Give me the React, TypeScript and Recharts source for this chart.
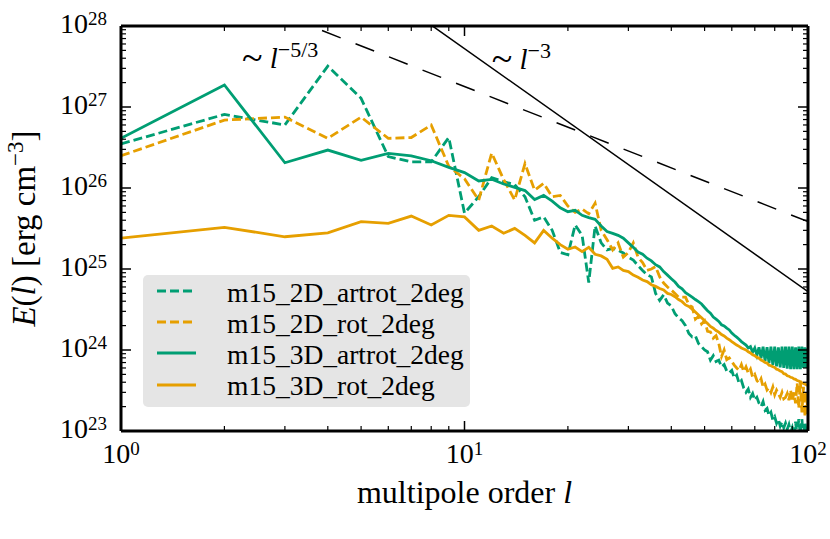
import React from 'react';
import { LineChart, Line, XAxis, YAxis, ReferenceLine, ReferenceDot, Legend, Label } from 'recharts';

const FONT = '"Liberation Serif", "Times New Roman", serif';
const TEAL = '#009E73';
const ORANGE = '#E69F00';

// multipole order l
const L = [
  1, 2, 3, 4, 5, 6, 7, 8, 9, 10, 11, 12, 13, 14, 15, 16, 17, 18, 19, 20,
  21, 22, 23, 24, 25, 26, 27, 28, 29, 30, 31, 32, 33, 34, 35, 36, 37, 38, 39, 40,
  41, 42, 43, 44, 45, 46, 47, 48, 49, 50, 51, 52, 53, 54, 55, 56, 57, 58, 59, 60,
  61, 62, 63, 64, 65, 66, 67, 68, 69, 70, 71, 72, 73, 74, 75, 76, 77, 78, 79, 80,
  81, 82, 83, 84, 85, 86, 87, 88, 89, 90, 91, 92, 93, 94, 95, 96, 97, 98, 99, 100,
];

// m15_2D_artrot_2deg
const E_2D_ARTROT = [
  3.5e26, 8.1e26, 6.0e26, 3.2e27, 1.28e27, 2.44e26, 2.1e26, 2.1e26, 4.2e26, 4.9e25,
  7.8e25, 1.34e26, 1.2e26, 1.1e26, 7.8e25, 4.0e25, 4.4e25, 3.0e25, 1.6e25, 1.5e25,
  3.5e25, 2.6e25, 6.8e24, 3.4e25, 2.1e25, 1.72e25, 1.8e25, 1.7e25, 1.58e25, 1.4e25,
  1.29e25, 1.1e25, 9.6e24, 8.5e24, 8.0e24, 5.0e24, 4.1e24, 4.8e24, 3.8e24, 3.5e24,
  2.8e24, 2.5e24, 2.3e24, 2.0e24, 1.6e24, 1.45e24, 1.5e24, 1.2e24, 1.1e24, 1.0e24,
  9.5e23, 7.5e23, 8.5e23, 7.2e23, 7.5e23, 6.2e23, 6.6e23, 5.5e23, 5.2e23, 5.6e23,
  4.5e23, 4.9e23, 3.9e23, 4.2e23, 3.4e23, 3.0e23, 3.3e23, 2.6e23, 2.9e23, 2.4e23,
  2.6e23, 2.2e23, 2.0e23, 2.3e23, 1.8e23, 1.9e23, 1.55e23, 1.7e23, 1.37e23, 1.5e23,
  1.25e23, 1.4e23, 1.15e23, 1.3e23, 1.1e23, 1.25e23, 1.05e23, 1.2e23, 9.5e22, 1.1e23,
  9.0e22, 1.3e23, 8.5e22, 1.4e23, 9.0e22, 1.4e23, 8.0e22, 1.3e23, 8.5e22, 1.2e23,
];

// m15_2D_rot_2deg
const E_2D_ROT = [
  2.5e26, 6.9e26, 7.5e26, 4.1e26, 7.5e26, 4.1e26, 4.2e26, 6.0e26, 1.85e26, 1.3e26,
  7.1e25, 2.7e26, 1.27e26, 7.1e25, 2.0e26, 9.4e25, 1.14e26, 7.8e25, 8.1e25, 6.0e25,
  5.0e25, 5.5e25, 4.8e25, 6.5e25, 3.0e25, 2.3e25, 1.72e25, 2.1e25, 1.4e25, 1.6e25,
  2.1e25, 1.4e25, 1.2e25, 9.6e24, 1.0e25, 1.07e25, 8.0e24, 6.7e24, 6.0e24, 5.5e24,
  5.0e24, 4.5e24, 4.5e24, 4.5e24, 3.6e24, 3.4e24, 2.4e24, 2.6e24, 2.1e24, 2.3e24,
  1.7e24, 1.67e24, 1.4e24, 1.5e24, 1.2e24, 8.3e23, 1.0e24, 7.6e23, 8.0e23, 7.2e23,
  6.5e23, 6.0e23, 5.6e23, 6.6e23, 5.4e23, 6.2e23, 5.2e23, 5.8e23, 4.6e23, 5.0e23,
  4.2e23, 3.9e23, 4.4e23, 3.5e23, 3.8e23, 3.2e23, 3.4e23, 3.0e23, 3.5e23, 2.8e23,
  3.2e23, 2.9e23, 2.6e23, 3.0e23, 2.5e23, 2.6e23, 2.9e23, 2.4e23, 3.2e23, 2.3e23,
  3.0e23, 2.2e23, 3.9e23, 1.9e23, 4.2e23, 1.7e23, 3.5e23, 1.5e23, 3.0e23, 1.6e23,
];

// m15_3D_artrot_2deg
const E_3D_ARTROT = [
  4.1e26, 1.87e27, 2.05e26, 2.94e26, 2.2e26, 2.68e26, 2.5e26, 2.17e26, 1.8e26, 1.55e26,
  1.22e26, 1.28e26, 1.12e26, 1.02e26, 9.3e25, 7.2e25, 8.1e25, 6.9e25, 5.7e25, 5.1e25,
  5.3e25, 4.6e25, 4.3e25, 4.1e25, 3.4e25, 2.9e25, 2.75e25, 2.6e25, 2.4e25, 2.1e25,
  1.85e25, 1.62e25, 1.52e25, 1.36e25, 1.26e25, 1.13e25, 1.06e25, 9.3e24, 8.4e24, 7.6e24,
  6.9e24, 6.1e24, 5.7e24, 5.1e24, 4.8e24, 4.5e24, 4.2e24, 3.95e24, 3.7e24, 3.35e24,
  3.05e24, 2.85e24, 2.55e24, 2.4e24, 2.25e24, 2.05e24, 1.98e24, 1.86e24, 1.77e24, 1.62e24,
  1.52e24, 1.44e24, 1.36e24, 1.27e24, 1.21e24, 1.15e24, 1.06e24, 1.1e24, 9.4e23, 1.06e24,
  8.6e23, 1.08e24, 7.9e23, 1.1e24, 7.3e23, 1.08e24, 6.9e23, 1.1e24, 6.5e23, 1.1e24,
  6.3e23, 1.08e24, 6.1e23, 1.1e24, 6.0e23, 1.1e24, 5.9e23, 1.1e24, 5.8e23, 1.1e24,
  5.8e23, 1.08e24, 5.8e23, 1.1e24, 5.8e23, 1.1e24, 6.0e23, 1.08e24, 6.0e23, 1.05e24,
];

// m15_3D_rot_2deg
const E_3D_ROT = [
  2.4e25, 3.27e25, 2.5e25, 2.8e25, 3.84e25, 3.66e25, 4.5e25, 3.5e25, 4.6e25, 4.4e25,
  3.0e25, 3.4e25, 2.76e25, 3.17e25, 2.6e25, 2.1e25, 3.0e25, 2.4e25, 2.0e25, 1.75e25,
  1.87e25, 1.64e25, 1.85e25, 1.52e25, 1.45e25, 1.32e25, 1.02e25, 1.06e25, 9.6e24, 9.3e24,
  8.4e24, 7.9e24, 7.3e24, 7.0e24, 6.4e24, 6.1e24, 5.75e24, 5.5e24, 5.0e24, 4.85e24,
  4.55e24, 4.2e24, 3.95e24, 3.6e24, 3.45e24, 3.2e24, 2.95e24, 2.7e24, 2.5e24, 2.3e24,
  2.12e24, 1.95e24, 1.86e24, 1.74e24, 1.66e24, 1.55e24, 1.49e24, 1.4e24, 1.34e24, 1.27e24,
  1.21e24, 1.15e24, 1.11e24, 1.06e24, 1.03e24, 1.0e24, 9.5e23, 9.2e23, 8.7e23, 8.5e23,
  8.1e23, 7.9e23, 7.5e23, 7.3e23, 7.0e23, 6.9e23, 6.5e23, 6.4e23, 6.2e23, 6.1e23,
  5.8e23, 5.7e23, 5.5e23, 5.4e23, 5.1e23, 5.05e23, 4.8e23, 4.75e23, 4.6e23, 4.55e23,
  4.4e23, 4.35e23, 4.2e23, 4.15e23, 4.0e23, 3.95e23, 3.85e23, 3.8e23, 3.7e23, 3.65e23,
];

const SERIES = [
  { key: 'a2', name: 'm15_2D_artrot_2deg', color: TEAL, dash: '9 4', values: E_2D_ARTROT },
  { key: 'r2', name: 'm15_2D_rot_2deg', color: ORANGE, dash: '9 4', values: E_2D_ROT },
  { key: 'a3', name: 'm15_3D_artrot_2deg', color: TEAL, dash: undefined, values: E_3D_ARTROT },
  { key: 'r3', name: 'm15_3D_rot_2deg', color: ORANGE, dash: undefined, values: E_3D_ROT },
];

// power-law guide lines (endpoints in data units)
const GUIDE_53 = [{ x: 1, y: 8.3e28 }, { x: 100, y: 3.85e25 }];
const GUIDE_3 = [{ x: 1, y: 5.25e30 }, { x: 100, y: 5.25e24 }];
const NOTE_53 = { x: 2.25, y: 3.0e27 };
const NOTE_3 = { x: 12.0, y: 2.94e27 };

const X_TICKS = [1, 2, 3, 4, 5, 6, 7, 8, 9, 10, 20, 30, 40, 50, 60, 70, 80, 90, 100];
const Y_TICKS = [
  1e23, 2e23, 3e23, 4e23, 5e23, 6e23, 7e23, 8e23, 9e23,
  1e24, 2e24, 3e24, 4e24, 5e24, 6e24, 7e24, 8e24, 9e24,
  1e25, 2e25, 3e25, 4e25, 5e25, 6e25, 7e25, 8e25, 9e25,
  1e26, 2e26, 3e26, 4e26, 5e26, 6e26, 7e26, 8e26, 9e26,
  1e27, 2e27, 3e27, 4e27, 5e27, 6e27, 7e27, 8e27, 9e27,
  1e28,
];

const data = L.map((l, i) => {
  const row: any = { l };
  SERIES.forEach((s) => { row[s.key] = s.values[i]; });
  return row;
});

const expOf = (v: number) => Math.round(Math.log10(v));
const isMajor = (v: number) => Math.abs(Math.log10(v) - expOf(v)) < 1e-6;

const MAJ = 10;
const MIN = 5;

const BottomTick = (props: any) => {
  const { x, y, payload } = props;
  const v = payload.value;
  const major = isMajor(v);
  return (
    <g>
      <line x1={x} x2={x} y1={y} y2={y - (major ? MAJ : MIN)} stroke="#000" strokeWidth={major ? 1.5 : 1.2} />
      {major && (
        <text x={x} y={y + 32} textAnchor="middle" fontFamily={FONT} fontSize={28} fill="#000">
          10<tspan dy={-8} fontSize={19}>{expOf(v)}</tspan>
        </text>
      )}
    </g>
  );
};

const TopTick = (props: any) => {
  const { x, y, payload } = props;
  const major = isMajor(payload.value);
  return <line x1={x} x2={x} y1={y} y2={y + (major ? MAJ : MIN)} stroke="#000" strokeWidth={major ? 1.5 : 1.2} />;
};

const LeftTick = (props: any) => {
  const { x, y, payload } = props;
  const v = payload.value;
  const major = isMajor(v);
  return (
    <g>
      <line x1={x} x2={x + (major ? MAJ : MIN)} y1={y} y2={y} stroke="#000" strokeWidth={major ? 1.5 : 1.2} />
      {major && (
        <text x={x - 14} y={y + 7} textAnchor="end" fontFamily={FONT} fontSize={28} fill="#000">
          10<tspan dy={-8} fontSize={19}>{expOf(v)}</tspan>
        </text>
      )}
    </g>
  );
};

const RightTick = (props: any) => {
  const { x, y, payload } = props;
  const major = isMajor(payload.value);
  return <line x1={x} x2={x - (major ? MAJ : MIN)} y1={y} y2={y} stroke="#000" strokeWidth={major ? 1.5 : 1.2} />;
};

const XTitle = (props: any) => {
  const vb = props.viewBox || {};
  return (
    <text x={vb.x + vb.width / 2} y={vb.y + 72} textAnchor="middle" fontFamily={FONT} fontSize={32} fill="#000">
      multipole order <tspan fontStyle="italic">l</tspan>
    </text>
  );
};

const YTitle = (props: any) => {
  const vb = props.viewBox || {};
  const cx = vb.x + 35;
  const cy = vb.y + vb.height / 2;
  return (
    <text x={cx} y={cy} textAnchor="middle" fontFamily={FONT} fontSize={33} fill="#000" transform={`rotate(-90, ${cx}, ${cy})`}>
      <tspan fontStyle="italic">E</tspan>(<tspan fontStyle="italic">l</tspan>) [erg cm<tspan dy={-12} fontSize={23}>−3</tspan><tspan dy={12}>]</tspan>
    </text>
  );
};

const noteShape = (exp: string) => (p: any) => (
  <text x={p.cx} y={p.cy} fontFamily={FONT} fontSize={29} fill="#000">
    <tspan fontSize={38} dy={2}>~</tspan><tspan dy={-2}> </tspan><tspan fontStyle="italic">l</tspan><tspan dy={-11} fontSize={22}>{exp}</tspan>
  </text>
);

const LegendBox = () => (
  <svg width={327} height={132} style={{ display: 'block', fontFamily: FONT }}>
    <rect x={0} y={0} width={327} height={132} rx={5} ry={5} fill="#e5e5e5" />
    {SERIES.map((s, i) => {
      const ly = [16, 47, 78, 110][i];
      const ty = [27, 58, 89, 120][i];
      return (
        <g key={s.key}>
          <line x1={14} x2={53} y1={ly} y2={ly} stroke={s.color} strokeWidth={2.8} strokeDasharray={s.dash} />
          <text x={84} y={ty} fontFamily={FONT} style={{ fontFamily: FONT }} fontSize={27.5} fill="#000">{s.name}</text>
        </g>
      );
    })}
  </svg>
);

export default function App() {
  return (
    <div style={{ position: 'absolute', left: 0, top: 0, background: '#fff' }}>
      <LineChart width={830} height={539} data={data} margin={{ top: 25, right: 21, bottom: 0, left: 0 }}>
        <XAxis
          dataKey="l"
          type="number"
          scale="log"
          domain={[1, 100]}
          allowDataOverflow
          ticks={X_TICKS}
          interval={0}
          height={108}
          tickSize={0}
          tickMargin={0}
          tickLine={false}
          axisLine={{ stroke: '#000', strokeWidth: 3 }}
          tick={<BottomTick />}
        >
          <Label content={<XTitle />} />
        </XAxis>
        <XAxis
          xAxisId="top"
          orientation="top"
          dataKey="l"
          type="number"
          scale="log"
          domain={[1, 100]}
          allowDataOverflow
          ticks={X_TICKS}
          interval={0}
          height={1}
          tickSize={0}
          tickMargin={0}
          tickLine={false}
          axisLine={{ stroke: '#000', strokeWidth: 3 }}
          tick={<TopTick />}
        />
        <YAxis
          type="number"
          scale="log"
          domain={[1e23, 1e28]}
          allowDataOverflow
          ticks={Y_TICKS}
          interval={0}
          width={121}
          tickSize={0}
          tickMargin={0}
          tickLine={false}
          axisLine={{ stroke: '#000', strokeWidth: 3 }}
          tick={<LeftTick />}
        >
          <Label content={<YTitle />} />
        </YAxis>
        <YAxis
          yAxisId="right"
          orientation="right"
          type="number"
          scale="log"
          domain={[1e23, 1e28]}
          allowDataOverflow
          ticks={Y_TICKS}
          interval={0}
          width={1}
          tickSize={0}
          tickMargin={0}
          tickLine={false}
          axisLine={{ stroke: '#000', strokeWidth: 3 }}
          tick={<RightTick />}
        />
        <ReferenceLine segment={GUIDE_53} stroke="#000" strokeWidth={1.5} strokeDasharray="20 16" ifOverflow="hidden" />
        <ReferenceLine segment={GUIDE_3} stroke="#000" strokeWidth={1.5} ifOverflow="hidden" />
        <ReferenceDot x={NOTE_53.x} y={NOTE_53.y} r={1} shape={noteShape('−5/3')} />
        <ReferenceDot x={NOTE_3.x} y={NOTE_3.y} r={1} shape={noteShape('−3')} />
        {SERIES.map((s) => (
          <Line
            key={s.key}
            dataKey={s.key}
            name={s.name}
            stroke={s.color}
            strokeWidth={2.8}
            strokeDasharray={s.dash}
            dot={false}
            activeDot={false}
            isAnimationActive={false}
            type="linear"
          />
        ))}
        <Legend
          layout="vertical"
          align="center"
          verticalAlign="middle"
          content={<LegendBox />}
          wrapperStyle={{ left: 143, top: 275, width: 327, height: 132 }}
        />
      </LineChart>
    </div>
  );
}
